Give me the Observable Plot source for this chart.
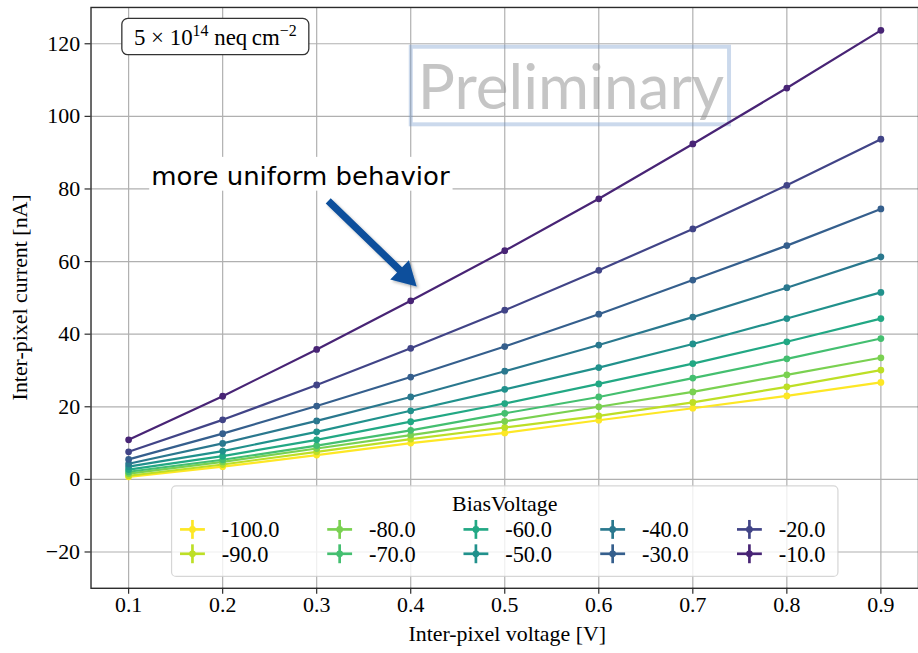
<!DOCTYPE html>
<html>
<head>
<meta charset="utf-8">
<script src="https://cdn.jsdelivr.net/npm/d3@7"></script>
<script src="https://cdn.jsdelivr.net/npm/@observablehq/plot@0.6"></script>
<style>
  html, body { margin: 0; padding: 0; background: #fff; overflow: hidden; }
  #chart { position: relative; width: 918px; height: 653px; overflow: hidden; }
  #chart svg { display: block; }
</style>
</head>
<body>
<div id="chart"></div>
<script>
// Inter-pixel voltage steps [V]
const voltages = [0.1, 0.2, 0.3, 0.4, 0.5, 0.6, 0.7, 0.8, 0.9];
// Bias voltage of each sweep [V]
const biasVoltages = [-100, -90, -80, -70, -60, -50, -40, -30, -20, -10];
// Measured inter-pixel current [nA] for each bias voltage
const current_m100 = [0.7, 3.5, 6.7, 10.0, 12.8, 16.3, 19.6, 23.0, 26.7];
const current_m90  = [1.0, 4.1, 7.6, 11.1, 14.3, 17.5, 21.2, 25.5, 30.1];
const current_m80  = [1.6, 4.8, 8.5, 12.2, 16.0, 20.0, 24.1, 28.8, 33.5];
const current_m70  = [2.1, 5.4, 9.3, 13.5, 18.2, 22.7, 27.9, 33.2, 38.8];
const current_m60  = [2.7, 6.4, 10.9, 15.9, 20.9, 26.3, 31.9, 37.9, 44.3];
const current_m50  = [3.5, 7.8, 13.1, 18.9, 24.8, 30.8, 37.3, 44.3, 51.5];
const current_m40  = [4.3, 9.9, 16.1, 22.7, 29.8, 37.0, 44.7, 52.8, 61.3];
const current_m30  = [5.5, 12.6, 20.2, 28.2, 36.6, 45.5, 54.9, 64.4, 74.5];
const current_m20  = [7.6, 16.4, 26.0, 36.1, 46.6, 57.6, 69.0, 81.0, 93.7];
const current_m10  = [10.9, 22.9, 35.8, 49.2, 63.0, 77.3, 92.4, 107.8, 123.7];
// Axis ticks
const xTicks = voltages;
const yTicks = [-20, 0, 20, 40, 60, 80, 100, 120];
// Annotation: text anchor and arrow (data coordinates)
const noteText = "more uniform behavior";
const notePos = [0.2832, 83.5];
const arrowFrom = [0.3128, 76.6];
const arrowTo = [0.4069, 53.0];

const currentsByBias = [current_m100, current_m90, current_m80, current_m70, current_m60,
                        current_m50, current_m40, current_m30, current_m20, current_m10];
const rows = biasVoltages.flatMap((b, i) =>
  voltages.map((v, j) => ({voltage: v, current: currentsByBias[i][j], bias: b})));

const serif = "'Liberation Serif', 'Times New Roman', serif";
const W = 923, H = 653, mL = 91, mR = 0, mT = 7, mB = 62;

const plot = Plot.plot({
  width: W, height: H,
  marginLeft: mL, marginRight: mR, marginTop: mT, marginBottom: mB,
  style: {fontFamily: serif, fontSize: "22px", color: "#000", background: "transparent"},
  x: {domain: [0.06, 0.94], label: null},
  y: {domain: [-30, 130], label: null},
  // bias hue: 0 V would be dark purple, -100 V is yellow (reversed viridis)
  color: {type: "linear", domain: [-100, 0], interpolate: t => d3.interpolateViridis(1 - t)},
  marks: [
    Plot.gridX(xTicks, {stroke: "#b0b0b0", strokeOpacity: 1, strokeWidth: 1.2}),
    Plot.gridY(yTicks, {stroke: "#b0b0b0", strokeOpacity: 1, strokeWidth: 1.2}),
    Plot.line(rows, {x: "voltage", y: "current", z: "bias", stroke: "bias", strokeWidth: 2.2}),
    Plot.dot(rows, {x: "voltage", y: "current", fill: "bias", r: 3.4, stroke: "none"}),
    Plot.frame({stroke: "#2b2b2b", strokeWidth: 1.4}),
    Plot.axisX(xTicks, {tickFormat: d3.format(".1f"), tickSize: 6, tickPadding: 2, stroke: "#2b2b2b", strokeWidth: 1.2}),
    Plot.axisY(yTicks, {tickSize: 6, tickPadding: 5, stroke: "#2b2b2b", strokeWidth: 1.2})
  ]
});

const svg = d3.select(plot);
const xs = plot.scale("x"), ys = plot.scale("y"), color = plot.scale("color");
const px = v => xs.apply(v), py = v => ys.apply(v);

// Watermark
const wm = svg.insert("g", "g[aria-label='line']");
wm.append("rect")
  .attr("x", 413).attr("y", 47).attr("width", 320).attr("height", 78)
  .attr("fill", "none").attr("stroke", "#6f97c9").attr("stroke-opacity", 0.36).attr("stroke-width", 4);
wm.append("text")
  .attr("x", 420).attr("y", 110).attr("text-anchor", "start")
  .attr("textLength", 308).attr("lengthAdjust", "spacingAndGlyphs")
  .attr("font-family", "Lato, 'Open Sans', sans-serif").attr("font-size", 62)
  .attr("fill", "#8c8c8c").attr("fill-opacity", 0.5)
  .text("Preliminary");

// Axis labels
svg.append("text")
  .attr("x", mL + (W - mL - mR) / 2 + 3).attr("y", 644)
  .attr("text-anchor", "middle").attr("font-family", serif).attr("font-size", 22)
  .text("Inter-pixel voltage [V]");
svg.append("text")
  .attr("transform", `translate(27,${mT + (H - mT - mB) / 2}) rotate(-90)`)
  .attr("text-anchor", "middle").attr("font-family", serif).attr("font-size", 22)
  .text("Inter-pixel current [nA]");

// Fluence box
const fl = svg.append("g");
fl.append("rect").attr("x", 122.5).attr("y", 18.5).attr("width", 188).attr("height", 36.5)
  .attr("rx", 6).attr("fill", "#fff").attr("stroke", "#333").attr("stroke-width", 1.3);
const ft = fl.append("text").attr("x", 216.5).attr("y", 45).attr("text-anchor", "middle")
  .attr("font-family", serif).attr("font-size", 23);
ft.append("tspan").text("5 × 10");
ft.append("tspan").attr("font-size", 16).attr("dy", -9).text("14");
ft.append("tspan").attr("dy", 9).text(" neq\u2009cm");
ft.append("tspan").attr("font-size", 16).attr("dy", -9).text("−2");

// Annotation with arrow
const defs = svg.append("defs");
const f = defs.append("filter").attr("id", "arrowShadow").attr("x", "-20%").attr("y", "-20%").attr("width", "140%").attr("height", "140%");
f.append("feDropShadow").attr("dx", 2).attr("dy", 2).attr("stdDeviation", 1.6)
  .attr("flood-color", "#000").attr("flood-opacity", 0.28);

const nx = px(notePos[0]), ny = py(notePos[1]);
const ann = svg.append("g");
ann.append("rect").attr("x", nx - 152).attr("y", ny - 19).attr("width", 305).attr("height", 34).attr("fill", "#fff");
ann.append("text").attr("x", nx).attr("y", ny + 9).attr("text-anchor", "middle")
  .attr("font-family", "'DejaVu Sans', sans-serif").attr("font-size", 25.5).attr("fill", "#000")
  .attr("textLength", 300).attr("lengthAdjust", "spacingAndGlyphs")
  .text(noteText);

{
  const x0 = px(arrowFrom[0]), y0 = py(arrowFrom[1]);
  const x1 = px(arrowTo[0]), y1 = py(arrowTo[1]);
  const len = Math.hypot(x1 - x0, y1 - y0);
  const ux = (x1 - x0) / len, uy = (y1 - y0) / len;
  const nxp = -uy, nyp = ux;
  const sw = 3.6, hl = 24, hw = 13.5;
  const bx = x1 - ux * hl, by = y1 - uy * hl;
  const pts = [
    [x0 + nxp * sw, y0 + nyp * sw],
    [bx + nxp * sw, by + nyp * sw],
    [bx + nxp * hw, by + nyp * hw],
    [x1, y1],
    [bx - nxp * hw, by - nyp * hw],
    [bx - nxp * sw, by - nyp * sw],
    [x0 - nxp * sw, y0 - nyp * sw]
  ];
  ann.append("path").attr("d", "M" + pts.map(p => p.join(",")).join("L") + "Z")
    .attr("fill", "#0b4f9c").attr("filter", "url(#arrowShadow)");
}

// Legend
const lg = svg.append("g");
lg.append("rect").attr("x", 172.5).attr("y", 488.5).attr("width", 670).attr("height", 91)
  .attr("rx", 4.5).attr("fill", "#fff").attr("fill-opacity", 0.8)
  .attr("stroke", "#cccccc").attr("stroke-opacity", 0.8).attr("stroke-width", 1.2);
lg.append("text").attr("x", 507.5).attr("y", 514).attr("text-anchor", "middle")
  .attr("font-family", serif).attr("font-size", 22).text("BiasVoltage");
const colX = [193.5, 341.5, 478.5, 616, 753.5];
const rowY = [532.3, 556.8];
biasVoltages.forEach((b, i) => {
  const cx = colX[Math.floor(i / 2)], cy = rowY[i % 2];
  const c = color.apply(b);
  const e = lg.append("g");
  e.append("line").attr("x1", cx - 12.5).attr("x2", cx + 12.5).attr("y1", cy).attr("y2", cy)
    .attr("stroke", c).attr("stroke-width", 2.7);
  e.append("line").attr("x1", cx).attr("x2", cx).attr("y1", cy - 9.5).attr("y2", cy + 9.5)
    .attr("stroke", c).attr("stroke-width", 2.7);
  e.append("circle").attr("cx", cx).attr("cy", cy).attr("r", 3.4).attr("fill", c);
  e.append("text").attr("x", cx + 29.5).attr("y", cy + 8).attr("text-anchor", "start")
    .attr("font-family", serif).attr("font-size", 22.5).text(b.toFixed(1));
});

document.getElementById("chart").appendChild(plot);
</script>
</body>
</html>
